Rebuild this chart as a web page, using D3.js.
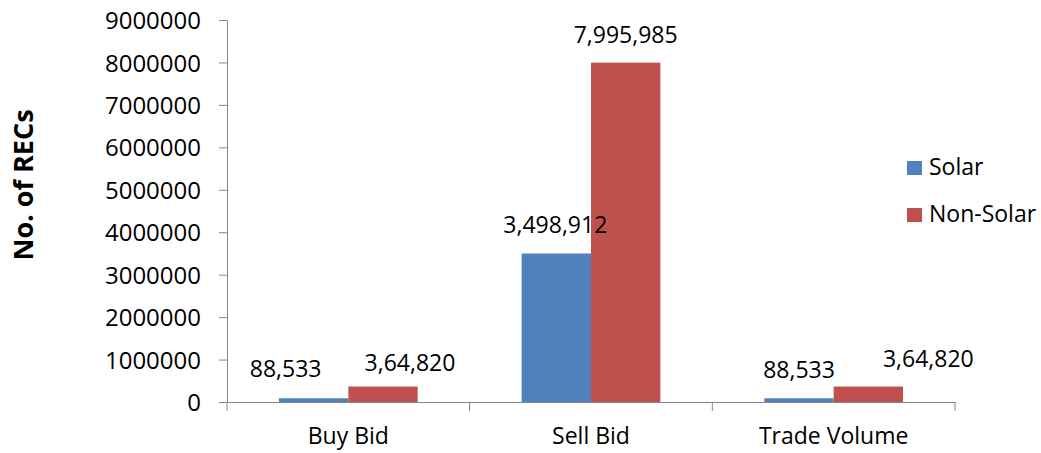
<!DOCTYPE html>
<html>
<head>
<meta charset="utf-8">
<script src="https://cdn.jsdelivr.net/npm/d3@7"></script>
<style>
  body { margin: 0; background: #fff; }
  text { font-family: "Open Sans", "Liberation Sans", sans-serif; fill: #000; }
  .domain, .tick line { stroke: #868686; }
</style>
</head>
<body>
<div id="chart"></div>
<script>
// data
const categories = ["Buy Bid", "Sell Bid", "Trade Volume"];
const seriesNames = ["Solar", "Non-Solar"];
const solarValues = [88533, 3498912, 88533];
const nonSolarValues = [364820, 7995985, 364820];
const solarLabels = ["88,533", "3,498,912", "88,533"];
const nonSolarLabels = ["3,64,820", "7,995,985", "3,64,820"];
const yTicks = [0, 1000000, 2000000, 3000000, 4000000, 5000000, 6000000, 7000000, 8000000, 9000000];
const colors = ["#4F81BD", "#C0504D"];

const width = 1041, height = 453;
const margin = { left: 227, right: 86, top: 20, bottom: 51 };

const svg = d3.select("#chart").append("svg")
    .attr("width", width)
    .attr("height", height);

const x = d3.scaleBand()
    .domain(categories)
    .range([margin.left, width - margin.right])
    .padding(0);

const xSeries = d3.scaleBand()
    .domain(seriesNames)
    .range([0, x.bandwidth()])
    .paddingInner(0)
    .paddingOuter(0.75);

const y = d3.scaleLinear()
    .domain([0, 9000000])
    .range([height - margin.bottom, margin.top]);

// y axis
const yAxis = svg.append("g")
    .attr("transform", `translate(${margin.left},0)`)
    .call(d3.axisLeft(y).tickValues(yTicks).tickFormat(d3.format("d")).tickSize(8).tickPadding(18).tickSizeOuter(0));
yAxis.selectAll("text").style("font-size", "24px").attr("dy", "0.36em");

// x axis
const xAxis = svg.append("g")
    .attr("transform", `translate(0,${y(0)})`)
    .call(d3.axisBottom(x).tickSize(0).tickPadding(26).tickSizeOuter(0));
xAxis.selectAll("text").style("font-size", "23px");
const bounds = categories.map(c => x(c)).concat([x.range()[1]]);
xAxis.selectAll(".bound")
    .data(bounds)
    .join("line")
    .attr("class", "bound")
    .attr("x1", d => d).attr("x2", d => d)
    .attr("y1", 0).attr("y2", 9)
    .attr("stroke", "#868686");

// bars
const rows = categories.map((c, i) => ({
    cat: c,
    vals: [
        { s: seriesNames[0], v: solarValues[i], label: solarLabels[i] },
        { s: seriesNames[1], v: nonSolarValues[i], label: nonSolarLabels[i] }
    ]
}));

// hand tweaks for label placement (dx, dy) as in the original
const labelNudge = {
    "Buy Bid": [[-28, -21], [27, -16]],
    "Sell Bid": [[-1, -20], [0, -20]],
    "Trade Volume": [[0, -20], [60, -20]]
};

const groups = svg.append("g")
    .selectAll("g")
    .data(rows)
    .join("g")
    .attr("transform", d => `translate(${x(d.cat)},0)`);

groups.selectAll("rect")
    .data(d => d.vals)
    .join("rect")
    .attr("x", d => xSeries(d.s))
    .attr("y", d => y(d.v))
    .attr("width", xSeries.bandwidth())
    .attr("height", d => y(0) - y(d.v))
    .attr("fill", (d, i) => colors[i]);

groups.each(function(row) {
    d3.select(this).selectAll("text.lbl")
        .data(row.vals)
        .join("text")
        .attr("class", "lbl")
        .attr("x", (d, i) => xSeries(d.s) + xSeries.bandwidth() / 2 + labelNudge[row.cat][i][0])
        .attr("y", (d, i) => y(d.v) + labelNudge[row.cat][i][1])
        .attr("text-anchor", "middle")
        .style("font-size", "23px")
        .text(d => d.label);
});

// y axis title
svg.append("text")
    .attr("transform", "translate(33,185) rotate(-90)")
    .attr("text-anchor", "middle")
    .style("font-size", "27px")
    .style("font-weight", "bold")
    .text("No. of RECs");

// legend
const legend = svg.append("g")
    .selectAll("g")
    .data(seriesNames)
    .join("g")
    .attr("transform", (d, i) => `translate(907,${161 + i * 47})`);
legend.append("rect")
    .attr("width", 15).attr("height", 14)
    .attr("fill", (d, i) => colors[i]);
legend.append("text")
    .attr("x", 22).attr("y", 14)
    .style("font-size", "23px")
    .text(d => d);
</script>
</body>
</html>
